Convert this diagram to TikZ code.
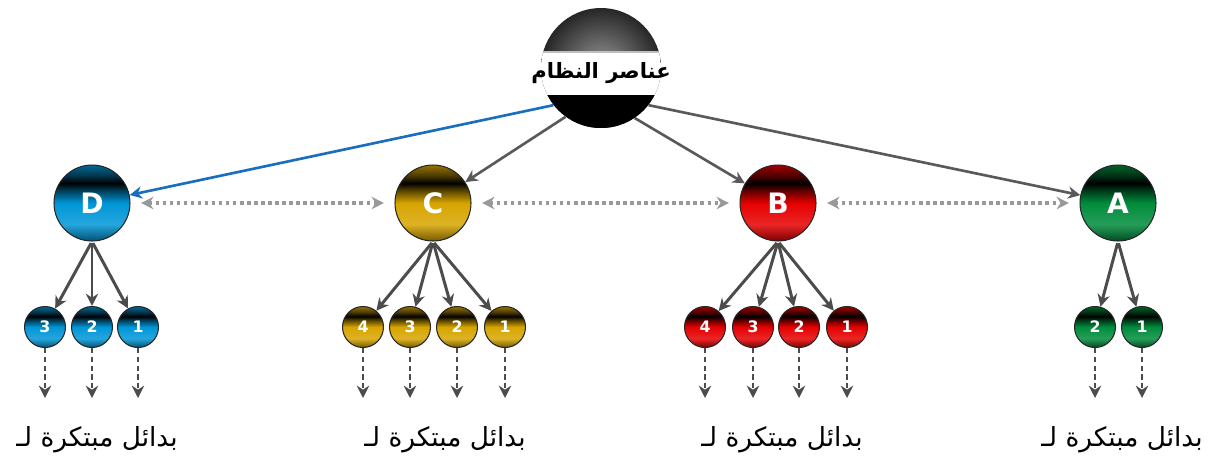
\documentclass[tikz,border=0pt]{standalone}
\usepackage{fontspec}
\setsansfont{DejaVu Sans}
\newfontfamily\arabicfont[Script=Arabic]{DejaVu Sans}
\TeXXeTstate=1
\usetikzlibrary{arrows.meta,positioning,calc}

% glossy sphere, colour given by ballcol
\colorlet{ballcol}{gray}
\pgfdeclareverticalshading[ballcol]{glossy}{100bp}{%
  color(0bp)=(ballcol!55!black); color(25bp)=(ballcol!55!black);
  color(36bp)=(ballcol!85!white); color(50bp)=(ballcol);
  color(59bp)=(ballcol!35!black); color(63bp)=(black);
  color(68bp)=(ballcol!35!black); color(75bp)=(ballcol!70!black);
  color(100bp)=(ballcol!70!black)}

\tikzset{
  glossy col/.style={/utils/exec={\colorlet{ballcol}{#1}}},
  elem/.style={circle, minimum size=1.52cm, inner sep=0pt, shading=glossy,
    draw=black!85, line width=0.6pt, text=white,
    font=\sffamily\bfseries\fontsize{16}{16}\selectfont},
  sub/.style={elem, minimum size=0.82cm,
    font=\sffamily\bfseries\fontsize{9}{9}\selectfont},
  topball/.style={circle, minimum size=2.4cm, inner sep=0pt,
    inner color=black!40, outer color=black!85,
    path picture={
      \fill[black] (path picture bounding box.south west)
        rectangle ([yshift=-0.54cm]path picture bounding box.east);
      \fill[white] ([yshift=-0.54cm]path picture bounding box.west)
        rectangle ([yshift=0.32cm]path picture bounding box.east);
      \draw[black!25, line width=1.5pt] ([yshift=0.32cm]path picture bounding box.west)
        -- ([yshift=0.32cm]path picture bounding box.east);}},
  toptext/.style={text=black, font=\arabicfont\bfseries\fontsize{12}{12}\selectfont},
  tip/.style={-{Stealth[length=7pt, width=7pt]}},
  feed/.style={tip, line width=1.5pt, draw=black!65},
  branch/.style={tip, line width=1.7pt, draw=black!70, shorten <=1pt},
  peer/.style={{Stealth[length=7pt, width=7pt]}-{Stealth[length=7pt, width=7pt]},
    dotted, line width=2pt, draw=black!40, shorten <=6pt, shorten >=6pt},
  outflow/.style={tip, densely dashed, line width=1.5pt, draw=black!70},
  lbl/.style={font=\arabicfont\fontsize{15}{15}\selectfont}
}

\begin{document}
\begin{tikzpicture}[x=0.02cm, y=-0.02cm]
    % Colors
    \definecolor{colD}{RGB}{0, 150, 215}
    \definecolor{colC}{RGB}{215, 165, 0}
    \definecolor{colB}{RGB}{230, 0, 0}
    \definecolor{colA}{RGB}{0, 140, 60}
    \definecolor{linkD}{RGB}{25, 110, 190}

    \useasboundingbox (0,0) rectangle (1213,461);

    % System
    \node[topball, label={[toptext, name=sysText, yshift=-3pt]center:\beginR عناصر النظام\endR}] (sys) at (601,68) {};

    % Elements
    \node[elem, glossy col=colD] (D) at (92,203) {D};
    \node[elem, glossy col=colC] (C) at (433,203) {C};
    \node[elem, glossy col=colB] (B) at (778,203) {B};
    \node[elem, glossy col=colA] (A) at (1118,203) {A};

    % Sub elements
    \node[sub, glossy col=colD] (D3) at (45,327) {3};
    \node[sub, glossy col=colD] (D2) at (92,327) {2};
    \node[sub, glossy col=colD] (D1) at (138,327) {1};

    \node[sub, glossy col=colC] (C4) at (363,327) {4};
    \node[sub, glossy col=colC] (C3) at (410,327) {3};
    \node[sub, glossy col=colC] (C2) at (457,327) {2};
    \node[sub, glossy col=colC] (C1) at (505,327) {1};

    \node[sub, glossy col=colB] (B4) at (705,327) {4};
    \node[sub, glossy col=colB] (B3) at (753,327) {3};
    \node[sub, glossy col=colB] (B2) at (799,327) {2};
    \node[sub, glossy col=colB] (B1) at (847,327) {1};

    \node[sub, glossy col=colA] (A2) at (1095,327) {2};
    \node[sub, glossy col=colA] (A1) at (1142,327) {1};

    % Links from the system
    \draw[feed, draw=linkD, fill=linkD] (sys.218) -- (D);
    \draw[feed] (sys.234) -- (C);
    \draw[feed] (sys.304) -- (B);
    \draw[feed] (sys.322) -- (A);

    % Links between elements
    \draw[peer] (D) -- (C);
    \draw[peer] (C) -- (B);
    \draw[peer] (B) -- (A);

    % Branches
    \draw[branch] (D.south) -- (D3);
    \draw[branch] (D.south) -- (D2);
    \draw[branch] (D.south) -- (D1);
    \draw[branch] (C.south) -- (C4);
    \draw[branch] (C.south) -- (C3);
    \draw[branch] (C.south) -- (C2);
    \draw[branch] (C.south) -- (C1);
    \draw[branch] (B.south) -- (B4);
    \draw[branch] (B.south) -- (B3);
    \draw[branch] (B.south) -- (B2);
    \draw[branch] (B.south) -- (B1);
    \draw[branch] (A.south) -- (A2);
    \draw[branch] (A.south) -- (A1);

    % Outputs
    \coordinate (oD3) at (45,398);   \draw[outflow] (D3) -- (oD3);
    \coordinate (oD2) at (92,398);   \draw[outflow] (D2) -- (oD2);
    \coordinate (oD1) at (138,398);  \draw[outflow] (D1) -- (oD1);
    \coordinate (oC4) at (363,398);  \draw[outflow] (C4) -- (oC4);
    \coordinate (oC3) at (410,398);  \draw[outflow] (C3) -- (oC3);
    \coordinate (oC2) at (457,398);  \draw[outflow] (C2) -- (oC2);
    \coordinate (oC1) at (505,398);  \draw[outflow] (C1) -- (oC1);
    \coordinate (oB4) at (705,398);  \draw[outflow] (B4) -- (oB4);
    \coordinate (oB3) at (753,398);  \draw[outflow] (B3) -- (oB3);
    \coordinate (oB2) at (799,398);  \draw[outflow] (B2) -- (oB2);
    \coordinate (oB1) at (847,398);  \draw[outflow] (B1) -- (oB1);
    \coordinate (oA2) at (1095,398); \draw[outflow] (A2) -- (oA2);
    \coordinate (oA1) at (1142,398); \draw[outflow] (A1) -- (oA1);

    % Labels
    \node[lbl] (labD) at (97,440) {\beginR بدائل مبتكرة لـ\endR};
    \node[lbl] (labC) at (445,440) {\beginR بدائل مبتكرة لـ\endR};
    \node[lbl] (labB) at (782,440) {\beginR بدائل مبتكرة لـ\endR};
    \node[lbl] (labA) at (1122,440) {\beginR بدائل مبتكرة لـ\endR};
\end{tikzpicture}
\end{document}
